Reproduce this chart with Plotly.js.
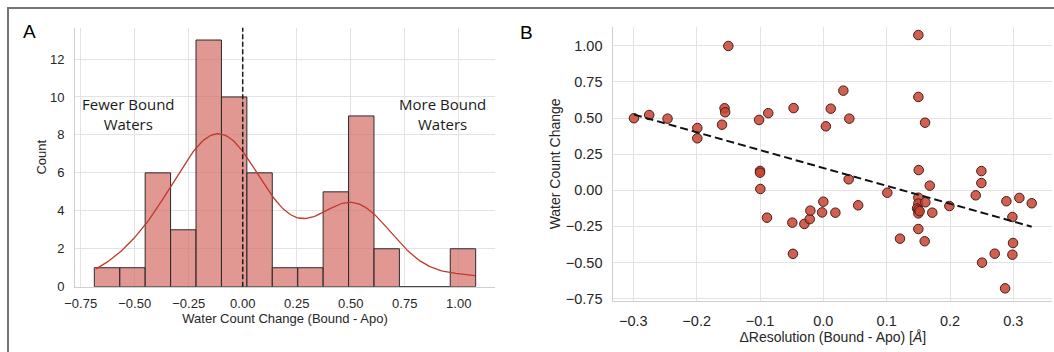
<!DOCTYPE html>
<html>
<head>
<meta charset="utf-8">
<script src="https://cdn.plot.ly/plotly-3.0.1.min.js"></script>
<style>
  html, body { margin: 0; padding: 0; background: #ffffff; }
  #wrap { position: relative; width: 1054px; height: 352px; overflow: hidden; }
  #chart { width: 1054px; height: 352px; }
  #frame { position: absolute; left: 7px; top: 7px; width: 1100px; height: 400px;
           border-top: 2px solid #747474; border-left: 2px solid #747474; pointer-events: none; }
</style>
</head>
<body>
<div id="wrap">
  <div id="chart"></div>
  <div id="frame"></div>
</div>
<script>
// ---------------- DATA ----------------
// Panel B: one point per structure pair
const deltaResolution = [-0.299,-0.275,-0.246,-0.199,-0.199,-0.150,-0.156,-0.155,-0.160,-0.1015,
  -0.087,-0.100,-0.100,-0.0995,-0.089,-0.047,-0.049,-0.048,-0.030,-0.0215,
  -0.0205,-0.002,0.000,0.019,0.004,0.0117,0.0316,0.041,0.040,0.055,
  0.101,0.121,0.150,0.150,0.1606,0.1506,0.168,0.150,0.150,0.161,
  0.148,0.150,0.150,0.152,0.172,0.150,0.160,0.199,0.2495,0.2495,
  0.2406,0.2506,0.2706,0.287,0.289,0.3095,0.329,0.2985,0.2995,0.2985];
const waterCountChange = [0.499,0.521,0.496,0.431,0.360,0.999,0.568,0.540,0.454,0.487,
  0.534,0.134,0.122,0.009,-0.190,0.569,-0.224,-0.440,-0.233,-0.200,
  -0.141,-0.153,-0.079,-0.155,0.443,0.565,0.690,0.496,0.076,-0.104,
  -0.017,-0.335,1.075,0.646,0.468,0.140,0.032,-0.051,-0.092,-0.083,
  -0.125,-0.135,-0.160,-0.145,-0.155,-0.268,-0.353,-0.109,0.133,0.050,
  -0.035,-0.501,-0.439,-0.679,-0.076,-0.053,-0.090,-0.185,-0.365,-0.446];

// Panel A: histogram of water count change (15 bins)
const histBinStart = -0.687;
const histBinWidth = 0.1177;
const histCounts = [1,1,6,3,13,10,6,1,1,5,9,2,0,0,2];

const histTickVals = [-0.75,-0.5,-0.25,0,0.25,0.5,0.75,1.0];
const countTickVals = [0,2,4,6,8,10,12];
const resTickVals = [-0.3,-0.2,-0.1,0,0.1,0.2,0.3];
const changeTickVals = [-0.75,-0.5,-0.25,0,0.25,0.5,0.75,1.0];

const sideLabels = ["Fewer Bound<br>Waters", "More Bound<br>Waters"];
const sideLabelX = [-0.531, 0.927];
const sideLabelY = [9.1, 9.1];

// ---------------- DERIVED ----------------
const binCenters = histCounts.map((c, i) => histBinStart + histBinWidth * (i + 0.5));

// Gaussian KDE (Scott bandwidth), scaled to counts, cut at data range
const n = waterCountChange.length;
const mean = waterCountChange.reduce((a, b) => a + b, 0) / n;
const sd = Math.sqrt(waterCountChange.reduce((a, b) => a + (b - mean) * (b - mean), 0) / (n - 1));
const bw = sd * Math.pow(n, -1 / 5);
const wMin = Math.min(...waterCountChange), wMax = Math.max(...waterCountChange);
const kdeX = [], kdeY = [];
for (let i = 0; i <= 200; i++) {
  const x = wMin + (wMax - wMin) * i / 200;
  let s = 0;
  for (const v of waterCountChange) { const z = (x - v) / bw; s += Math.exp(-0.5 * z * z); }
  const dens = s / (n * bw * Math.sqrt(2 * Math.PI));
  kdeX.push(x); kdeY.push(dens * n * histBinWidth);
}

// OLS regression line
const mx = deltaResolution.reduce((a, b) => a + b, 0) / n;
const my = mean;
let sxy = 0, sxx = 0;
for (let i = 0; i < n; i++) { sxy += (deltaResolution[i] - mx) * (waterCountChange[i] - my); sxx += (deltaResolution[i] - mx) ** 2; }
const slope = sxy / sxx, intercept = my - slope * mx;
const xMin = Math.min(...deltaResolution), xMax = Math.max(...deltaResolution);
const fitX = [xMin, xMax], fitY = fitX.map(x => intercept + slope * x);

// ---------------- LAYOUT HELPERS ----------------
const W = 1054, H = 352;
const M = {l: 60, r: 0, t: 20, b: 40};
const PW = W - M.l - M.r, PH = H - M.t - M.b;
const dx = (a, b) => [(a - M.l) / PW, (b - M.l) / PW];
const dy = (top, bottom) => [(H - M.b - bottom) / PH, (H - M.b - top) / PH];

const FAM = "Liberation Sans, Arial, sans-serif";
const tickFont = {family: FAM, size: 13, color: "#262626"};
const tickFontB = {family: FAM, size: 14.5, color: "#262626"};
const gridC = "#e3e3e3", spineC = "#cfcfcf";

const traces = [
  {
    type: "bar", x: binCenters, y: histCounts, width: histBinWidth,
    marker: {color: "rgba(214,112,104,0.72)", line: {color: "#2b2b2b", width: 1}},
    xaxis: "x", yaxis: "y", hoverinfo: "x+y", showlegend: false
  },
  {
    type: "scatter", mode: "lines", x: kdeX, y: kdeY,
    line: {color: "#c0392b", width: 1.3},
    xaxis: "x", yaxis: "y", showlegend: false
  },
  {
    type: "scatter", mode: "markers", x: deltaResolution, y: waterCountChange,
    marker: {size: 9.5, color: "rgba(200,68,52,0.85)", line: {color: "#4a1c16", width: 1}},
    xaxis: "x2", yaxis: "y2", showlegend: false
  },
  {
    type: "scatter", mode: "lines", x: fitX, y: fitY,
    line: {color: "#111111", width: 2, dash: "8px,4px"},
    xaxis: "x2", yaxis: "y2", showlegend: false
  }
];

const layout = {
  width: W, height: H,
  margin: M,
  paper_bgcolor: "#ffffff", plot_bgcolor: "#ffffff",
  showlegend: false,
  xaxis: {
    domain: dx(75.1, 495), range: [-0.776, 1.168], anchor: "y",
    tickvals: histTickVals, tickformat: ".2f",
    showgrid: true, gridcolor: gridC, gridwidth: 1, zeroline: false,
    showline: true, linecolor: spineC, linewidth: 1, ticks: "", ticklabelstandoff: 5,
    tickfont: tickFont,
    title: {text: "Water Count Change (Bound - Apo)", font: {family: FAM, size: 13, color: "#262626"}, standoff: 2}
  },
  yaxis: {
    domain: dy(27.7, 286.7), range: [0, 13.65], anchor: "x",
    tickvals: countTickVals, tickformat: "d",
    showgrid: true, gridcolor: gridC, gridwidth: 1, zeroline: false,
    showline: true, linecolor: spineC, linewidth: 1, ticks: "", ticklabelstandoff: 7,
    tickfont: tickFont,
    title: {text: "Count", font: {family: FAM, size: 13, color: "#262626"}, standoff: 0}
  },
  xaxis2: {
    domain: dx(613.4, 1052.3), range: [-0.3315, 0.3615], anchor: "y2",
    tickvals: resTickVals, tickformat: ".1f",
    showgrid: true, gridcolor: gridC, gridwidth: 1, zeroline: false,
    showline: true, linecolor: spineC, linewidth: 1, ticks: "", ticklabelstandoff: 6,
    tickfont: tickFontB,
    title: {text: "ΔResolution (Bound - Apo) [<i>Å</i>]", font: {family: FAM, size: 14, color: "#262626"}, standoff: 4}
  },
  yaxis2: {
    domain: dy(26.5, 301.2), range: [-0.768, 1.134], anchor: "x2",
    tickvals: changeTickVals, tickformat: ".2f",
    showgrid: true, gridcolor: gridC, gridwidth: 1, zeroline: false,
    showline: true, linecolor: spineC, linewidth: 1, ticks: "", ticklabelstandoff: 7,
    tickfont: tickFontB,
    title: {text: "Water Count Change", font: {family: FAM, size: 14, color: "#262626"}, standoff: 1}
  },
  shapes: [
    {type: "line", xref: "x", yref: "y domain", x0: 0, x1: 0, y0: 0, y1: 1,
     line: {color: "#1a1a1a", width: 1.5, dash: "5px,2.5px"}}
  ],
  annotations: [
    {text: sideLabels[0], x: sideLabelX[0], y: sideLabelY[0], xref: "x", yref: "y", showarrow: false,
     font: {family: "Open Sans, Noto Sans, sans-serif", size: 15, color: "#1a1a1a"}, align: "center"},
    {text: sideLabels[1], x: sideLabelX[1], y: sideLabelY[1], xref: "x", yref: "y", showarrow: false,
     font: {family: "Open Sans, Noto Sans, sans-serif", size: 15, color: "#1a1a1a"}, align: "center"},
    {text: "A", xref: "paper", yref: "paper", x: (29.3 - M.l) / PW, y: (H - M.b - 31.7) / PH,
     xanchor: "center", yanchor: "middle", showarrow: false,
     font: {family: FAM, size: 19, color: "#000000"}},
    {text: "B", xref: "paper", yref: "paper", x: (526 - M.l) / PW, y: (H - M.b - 33) / PH,
     xanchor: "center", yanchor: "middle", showarrow: false,
     font: {family: FAM, size: 19, color: "#000000"}}
  ]
};

Plotly.newPlot("chart", traces, layout, {displayModeBar: false, staticPlot: true});
</script>
</body>
</html>
